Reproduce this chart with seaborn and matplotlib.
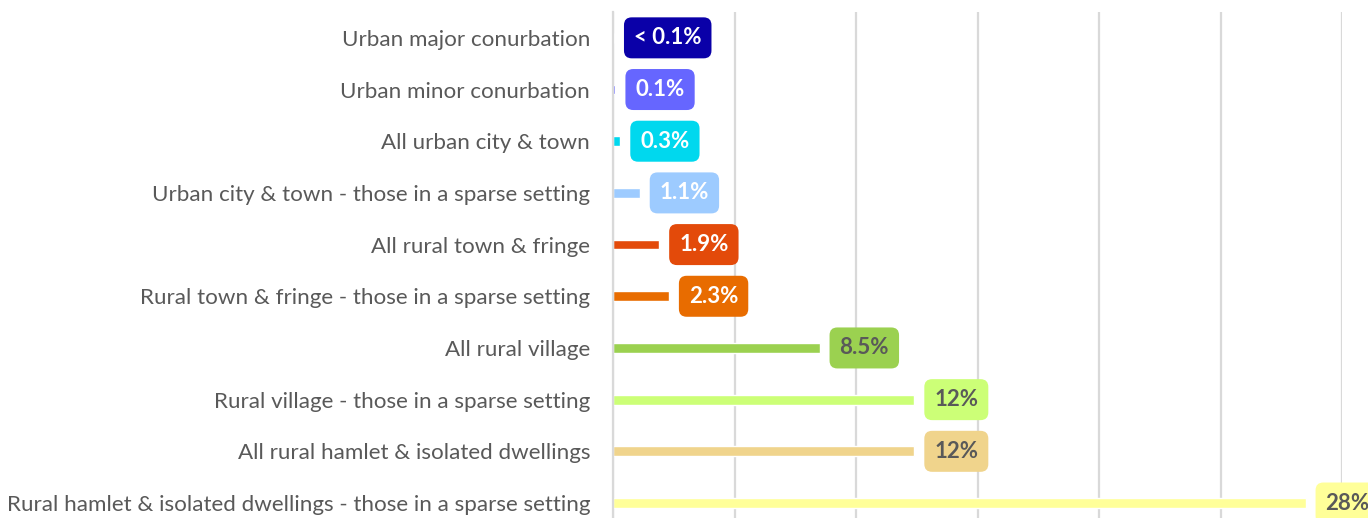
import matplotlib
matplotlib.use("Agg")
import matplotlib.pyplot as plt
import seaborn as sns
import pandas as pd

categories = [
    "Urban major conurbation",
    "Urban minor conurbation",
    "All urban city & town",
    "Urban city & town - those in a sparse setting",
    "All rural town & fringe",
    "Rural town & fringe - those in a sparse setting",
    "All rural village",
    "Rural village - those in a sparse setting",
    "All rural hamlet & isolated dwellings",
    "Rural hamlet & isolated dwellings - those in a sparse setting",
]
shares = [0.04, 0.1, 0.3, 1.1, 1.9, 2.3, 8.5, 12.4, 12.4, 28.5]
bar_colors = ["#0A00A8", "#6666FF", "#00D8EE", "#9DCBFF", "#E34A0A",
              "#E86C00", "#9BD150", "#CCFF77", "#F0D48C", "#FFFF99"]
label_colors = ["white"] * 6 + ["#595959"] * 4


def fmt(v):
    if v < 0.1:
        return "< 0.1%"
    if v >= 10:
        return f"{v:.0f}%"
    return f"{v:.1f}%"


df = pd.DataFrame({"category": categories, "share": shares})

sns.set_theme(style="white")
plt.rcParams["font.family"] = ["Lato", "DejaVu Sans"]

fig = plt.figure(figsize=(13.68, 5.18), dpi=100)
ax = fig.add_axes([613 / 1368, 0.0, (1342 - 613) / 1368, 1 - 12 / 518])

sns.barplot(data=df, x="share", y="category", hue="category",
            palette=bar_colors, width=0.19, legend=False, ax=ax,
            orient="h", saturation=1)

ax.set_xlim(0, 30)
ax.set_ylim(9.29, -0.5)
ax.set_xticks(range(0, 31, 5))
ax.set_xticklabels([])
ax.grid(axis="x", color="#D9D9D9", linewidth=1.6)
ax.set_axisbelow(True)
ax.set_xlabel("")
ax.set_ylabel("")
for side in ["top", "right", "bottom"]:
    ax.spines[side].set_visible(False)
ax.spines["left"].set_color("#D9D9D9")
ax.spines["left"].set_linewidth(1.6)
ax.tick_params(axis="y", length=0, pad=16.5, labelsize=16.1, labelcolor="#595959")
ax.tick_params(axis="x", length=0)

for i, (v, fc, tc) in enumerate(zip(shares, bar_colors, label_colors)):
    ax.annotate(fmt(v), xy=(v, i), xytext=(14.4, 0), textcoords="offset points",
                ha="left", va="center", fontsize=16, fontweight="bold", color=tc,
                annotation_clip=False,
                bbox=dict(boxstyle="round,pad=0.45,rounding_size=0.35",
                          fc=fc, ec="none"))

fig.savefig("out.png", dpi=100)
